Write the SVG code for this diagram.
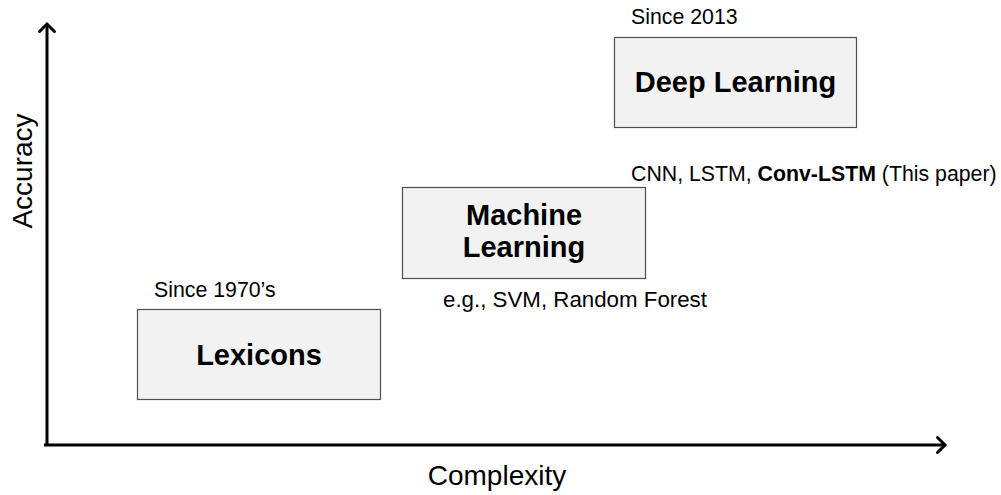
<svg xmlns="http://www.w3.org/2000/svg" width="1001" height="495" viewBox="0 0 1001 495">
  <style>
    .box { fill: #f2f2f2; stroke: #505050; stroke-width: 1.2; }
    .title { font-family: "Liberation Sans", Arial, sans-serif; font-weight: bold; font-size: 29px; fill: #000; text-anchor: middle; }
    .note { font-family: "Liberation Sans", Arial, sans-serif; font-size: 21.3px; fill: #000; }
    .axis-label { font-family: "Liberation Sans", Arial, sans-serif; font-size: 28px; fill: #000; text-anchor: middle; }
    .axis { fill: none; stroke: #000; stroke-width: 3; }
    .head { fill: none; stroke: #000; stroke-width: 3; stroke-linecap: round; stroke-linejoin: miter; }
  </style>
  <defs>
    <marker id="open-arrow" markerUnits="userSpaceOnUse" markerWidth="20" markerHeight="20" viewBox="-10 -10 20 20" refX="0" refY="0" orient="auto">
      <path class="head" d="M-7.5,-7.5 L0,0 L-7.5,7.5"/>
    </marker>
  </defs>

  <rect width="1001" height="495" fill="#fff"/>

  <!-- axes -->
  <g id="connectors">
    <path class="axis" d="M47,446 L47,24" marker-end="url(#open-arrow)"/>
    <path class="axis" d="M44,445 L945,445" marker-end="url(#open-arrow)"/>
  </g>

  <!-- axis labels -->
  <text class="axis-label" x="497" y="485">Complexity</text>
  <text class="axis-label" transform="translate(32,171) rotate(-90)">Accuracy</text>

  <g id="lexicons">
    <text class="note" x="154" y="297">Since 1970’s</text>
    <rect class="box" x="137.5" y="309.5" width="243" height="90"/>
    <text class="title" x="259" y="365">Lexicons</text>
  </g>

  <g id="machine-learning">
    <rect class="box" x="402.5" y="187.5" width="243" height="91"/>
    <text class="title" x="524" y="225">Machine</text>
    <text class="title" x="524" y="257">Learning</text>
    <text class="note" x="443" y="307" style="font-size:22.3px">e.g., SVM, Random Forest</text>
  </g>

  <g id="deep-learning">
    <text class="note" x="631" y="24">Since 2013</text>
    <rect class="box" x="614.5" y="37.5" width="242" height="90"/>
    <text class="title" x="735.5" y="92">Deep Learning</text>
    <text class="note" x="631" y="181">CNN, LSTM, <tspan font-weight="bold">Conv-LSTM</tspan> (This paper)</text>
  </g>
</svg>
